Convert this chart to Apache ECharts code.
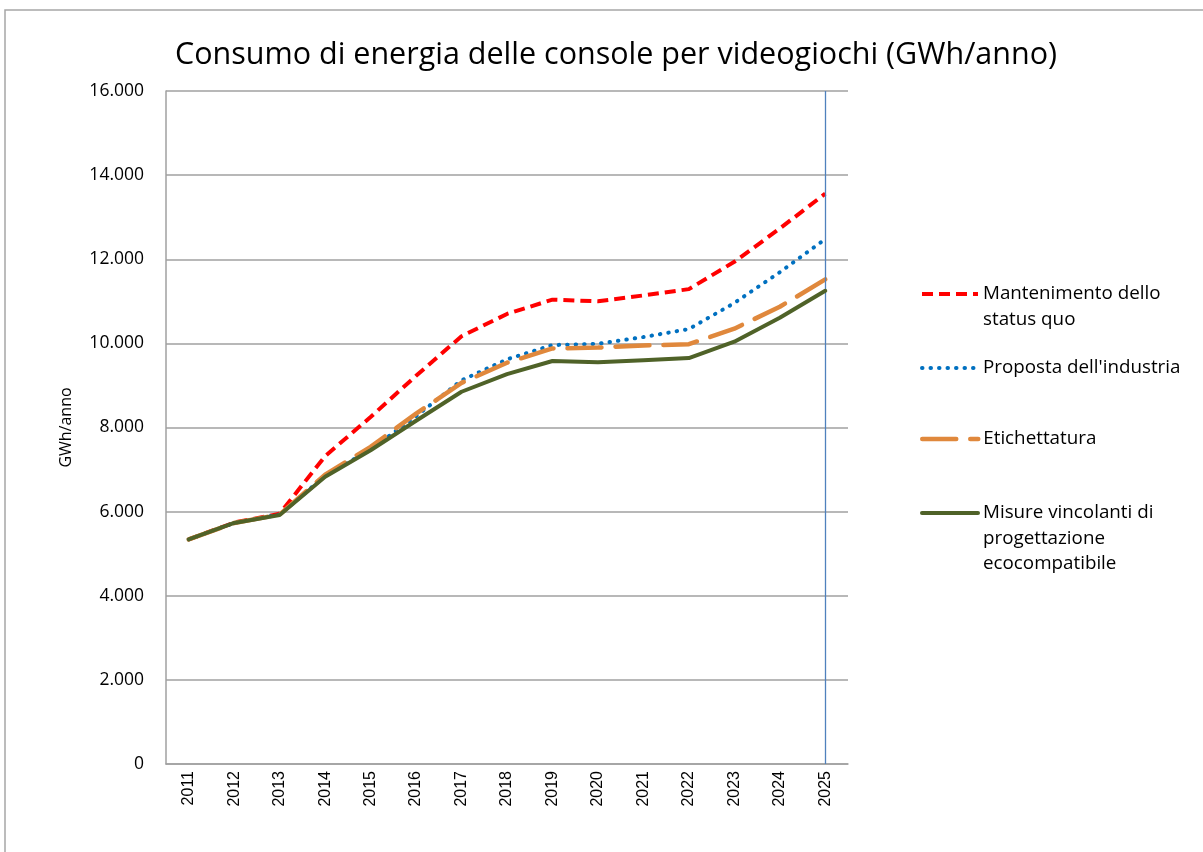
<!DOCTYPE html>
<html>
<head>
<meta charset="utf-8">
<script src="https://cdn.jsdelivr.net/npm/echarts@6/dist/echarts.min.js"></script>
<style>
html,body{margin:0;padding:0;background:#fff;}
#chart{width:1203px;height:852px;}
</style>
</head>
<body>
<div id="chart"></div>
<script>
const years = ['2011','2012','2013','2014','2015','2016','2017','2018','2019','2020','2021','2022','2023','2024','2025'];
const statusQuo = [5340, 5740, 5950, 7320, 8250, 9230, 10170, 10700, 11040, 11000, 11140, 11290, 11940, 12730, 13560];
const proposta = [5340, 5730, 5930, 6850, 7480, 8270, 9120, 9620, 9960, 9990, 10150, 10340, 10960, 11690, 12480];
const etichettatura = [5340, 5730, 5930, 6880, 7540, 8330, 9060, 9540, 9880, 9900, 9950, 9980, 10350, 10870, 11520];
const misure = [5340, 5730, 5920, 6830, 7460, 8160, 8850, 9270, 9580, 9550, 9600, 9650, 10040, 10610, 11250];
const seriesNames = ['Mantenimento dello\nstatus quo', "Proposta dell'industria", 'Etichettatura', 'Misure vincolanti di\nprogettazione\necocompatibile'];
const legendLabels = ['\nMantenimento dello\nstatus quo', "Proposta dell'industria", 'Etichettatura', '\n\nMisure vincolanti di\nprogettazione\necocompatibile'];
const titleText = 'Consumo di energia delle console per videogiochi (GWh/anno)';
const yAxisName = 'GWh/anno';

const FONT = '"Open Sans", Lato, sans-serif';
const chart = echarts.init(document.getElementById('chart'));

function fmt(v){ return v === 0 ? '0' : String(v).replace(/\B(?=(\d{3})+(?!\d))/g, '.'); }

const lineDefs = [
  { data: statusQuo, color: '#FF0000', width: 4, type: [11, 6], cap: 'butt' },
  { data: proposta, color: '#0070C0', width: 4, type: [0.5, 8], cap: 'round' },
  { data: etichettatura, color: '#E0883C', width: 4.5, type: [34, 14], cap: 'round' },
  { data: misure, color: '#4F6228', width: 4, type: 'solid', cap: 'round' }
];

const legendCenters = [294, 368, 439, 513];
const LH = 25.5;
const legends = seriesNames.map((n, i) => {
  const lines = legendLabels[i].split('\n').length;
  const h = Math.max(14, lines * LH);
  return {
    data: [n],
    left: 920,
    top: legendCenters[i] - h / 2,
    padding: 0,
    itemWidth: 56,
    itemHeight: 14,
    itemGap: 8,
    selectedMode: false,
    itemStyle: { opacity: 0 },
    lineStyle: { width: lineDefs[i].width, cap: lineDefs[i].cap },
    formatter: () => legendLabels[i],
    textStyle: { fontFamily: FONT, fontSize: 18.8, color: '#000', lineHeight: LH }
  };
});

const series = lineDefs.map((d, i) => ({
  name: seriesNames[i],
  type: 'line',
  data: d.data,
  symbol: 'none',
  smooth: false,
  z: 2 + i,
  lineStyle: { color: d.color, width: d.width, type: d.type, cap: d.cap, join: 'round' },
  itemStyle: { color: d.color },
  emphasis: { disabled: true }
}));
series[0].markLine = {
  silent: true,
  symbol: 'none',
  label: { show: false },
  emphasis: { disabled: true },
  lineStyle: { color: '#4F81BD', width: 1.3, type: 'solid', opacity: 1 },
  data: [{ xAxis: '2025' }]
};

chart.setOption({
  animation: false,
  backgroundColor: '#fff',
  title: {
    text: titleText,
    left: 611,
    textAlign: 'center',
    top: 35,
    textStyle: { fontFamily: FONT, fontSize: 30.5, fontWeight: 'normal', color: '#000' }
  },
  legend: legends,
  graphic: [{
    type: 'rect',
    shape: { x: 5, y: 10, width: 1300, height: 1000 },
    style: { fill: 'none', stroke: '#A6A6A6', lineWidth: 1.5 },
    silent: true
  }],
  grid: { left: 166, right: 355, top: 91, bottom: 88, containLabel: false },
  xAxis: {
    type: 'category',
    data: years,
    boundaryGap: true,
    axisLine: { show: true, lineStyle: { color: '#A0A0A0', width: 1.5 } },
    axisTick: { show: false },
    axisLabel: { rotate: 90, margin: 7, fontFamily: '"Liberation Sans", Arial, sans-serif', fontSize: 16, color: '#000', interval: 0 },
    splitLine: { show: false }
  },
  yAxis: {
    type: 'value',
    min: 0,
    max: 16000,
    interval: 2000,
    name: yAxisName,
    nameLocation: 'middle',
    nameRotate: 90,
    nameGap: 92,
    nameTextStyle: { fontFamily: FONT, fontSize: 16, color: '#000' },
    axisLine: { show: true, lineStyle: { color: '#A0A0A0', width: 1.5 } },
    axisTick: { show: false },
    axisLabel: { formatter: fmt, margin: 22, fontFamily: FONT, fontSize: 17.5, color: '#000' },
    splitLine: { show: true, lineStyle: { color: '#A0A0A0', width: 1.5 } }
  },
  series: series
});
</script>
</body>
</html>
